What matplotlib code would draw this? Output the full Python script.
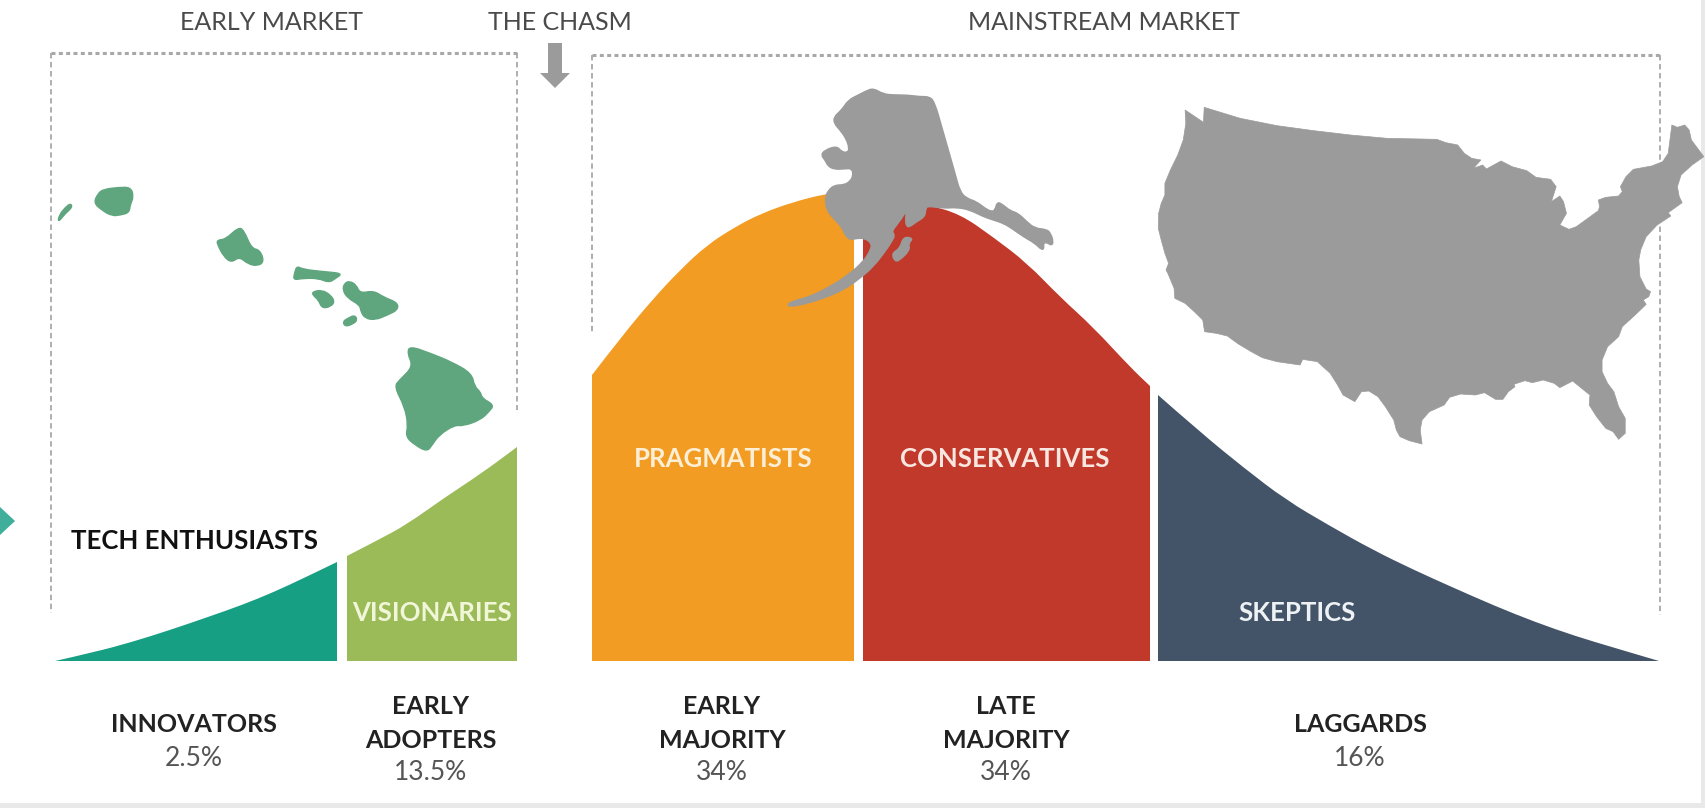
"""Chasm adoption curve with US map silhouettes."""

import matplotlib
matplotlib.use('Agg')
import matplotlib.pyplot as plt
from matplotlib.patches import PathPatch, Polygon
from matplotlib.path import Path

plt.rcParams['font.family'] = ['Lato', 'DejaVu Sans']

COLORS = {
    'innovators': '#179F84',
    'early_adopters': '#9BBB59',
    'early_majority': '#F39C23',
    'late_majority': '#C0392B',
    'laggards': '#435368',
    'map': '#9B9B9B',
    'hawaii': '#5FA67F',
    'dash': '#A8A8A8',
    'head': '#4A4A4A',
    'body': '#222222',
    'pct': '#555555',
    'strip': '#E9E9E9',
}

BASE_Y = 661

# top edge of each bell segment, in picture pixels
INNOVATORS_TOP = [(55, 661), (95, 652), (132, 642), (170, 630), (208, 617), (242, 605), (274, 592), (306, 577), (337, 562)]
EARLY_ADOPTERS_TOP = [(347, 556), (378, 540), (406, 525), (444, 498), (482, 473), (517, 447)]
EARLY_MAJORITY_TOP = [(592, 375), (622, 336), (653, 299), (680, 270), (707, 245), (735, 227), (760, 214), (793, 202), (825, 194), (854, 190)]
LATE_MAJORITY_TOP = [(863, 190), (895, 196), (928, 205), (960, 214), (993, 237), (1027, 263), (1060, 297), (1093, 327), (1130, 367), (1150, 386)]
LAGGARDS_TOP = [(1158, 395), (1200, 432), (1244, 468), (1286, 500), (1330, 526), (1373, 550), (1414, 570), (1454, 588), (1495, 606), (1535, 622), (1575, 636), (1615, 648), (1659, 661)]

ALASKA = [(340, 55), (370, 72), (400, 75), (440, 75), (480, 80), (510, 80), (525, 100), (545, 170), (565, 240), (585, 310),
          (600, 365), (620, 385), (650, 395), (675, 415), (695, 425), (705, 420), (712, 395), (730, 405), (750, 422),
          (775, 430), (800, 455), (825, 475), (860, 478), (872, 490), (880, 515), (875, 527), (860, 517), (850, 520),
          (852, 535), (845, 540), (825, 520), (790, 500), (755, 475), (730, 460), (700, 450), (670, 440), (630, 420),
          (590, 412), (550, 415), (505, 408), (497, 415), (495, 440), (470, 455), (450, 470), (440, 470), (436, 450),
          (440, 420), (425, 445), (410, 465), (395, 485), (405, 495), (395, 515), (375, 545), (340, 590), (300, 625),
          (250, 660), (190, 685), (130, 703), (90, 710), (82, 703), (100, 693), (150, 680), (210, 650), (265, 615),
          (310, 575), (332, 540), (335, 520), (315, 505), (290, 505), (270, 510), (255, 495), (245, 470), (220, 445),
          (200, 420), (195, 385), (205, 360), (225, 345), (250, 345), (270, 335), (280, 315), (275, 295), (250, 297),
          (225, 298), (205, 290), (195, 270), (183, 255), (195, 240), (230, 228), (245, 245), (262, 248), (268, 235),
          (258, 205), (240, 180), (222, 160), (222, 140), (245, 120), (265, 90), (295, 75), (320, 62)]
KODIAK = [(430, 500), (460, 505), (445, 520), (450, 540), (420, 570), (405, 575), (395, 550), (420, 535)]
LOWER_48 = [(150, 60), (200, 97), (202, 52), (300, 85), (400, 107), (500, 122), (600, 135), (700, 145), (835, 148), (860, 158),
            (892, 165), (910, 190), (930, 205), (955, 210), (935, 235), (960, 225), (970, 237), (1010, 213), (1040, 230),
            (1080, 242), (1105, 262), (1145, 268), (1160, 290), (1147, 335), (1170, 318), (1180, 335), (1188, 370),
            (1170, 405), (1195, 418), (1215, 410), (1275, 362), (1278, 350), (1275, 330), (1295, 322), (1330, 318),
            (1340, 305), (1335, 290), (1350, 260), (1370, 238), (1420, 228), (1450, 215), (1465, 190), (1475, 105),
            (1490, 112), (1510, 105), (1522, 120), (1528, 150), (1545, 175), (1562, 200), (1530, 225), (1500, 255),
            (1490, 290), (1495, 320), (1503, 338), (1465, 368), (1472, 378), (1435, 405), (1405, 440), (1390, 480),
            (1385, 510), (1388, 560), (1405, 597), (1417, 605), (1412, 620), (1397, 630), (1405, 643), (1375, 675),
            (1340, 710), (1330, 740), (1300, 770), (1285, 810), (1285, 845), (1300, 880), (1317, 905), (1330, 950),
            (1348, 985), (1348, 1030), (1330, 1048), (1315, 1025), (1295, 1015), (1270, 980), (1250, 945), (1252, 915),
            (1235, 900), (1205, 873), (1170, 893), (1155, 880), (1125, 870), (1095, 878), (1075, 872), (1045, 883),
            (1048, 890), (1030, 905), (1015, 928), (995, 928), (965, 908), (940, 915), (900, 912), (870, 922), (855, 945),
            (815, 965), (795, 990), (790, 1020), (795, 1062), (760, 1052), (735, 1040), (725, 1020), (718, 990), (695, 950),
            (675, 920), (650, 903), (630, 905), (612, 935), (580, 915), (565, 885), (545, 850), (510, 815), (470, 808),
            (463, 825), (400, 815), (360, 803), (330, 785), (295, 762), (265, 738), (235, 730), (203, 725), (198, 690),
            (175, 665), (150, 640), (122, 625), (120, 595), (103, 550), (98, 540), (105, 520), (95, 490), (85, 450),
            (77, 415), (78, 370), (85, 340), (95, 315), (95, 280), (110, 240), (130, 195), (145, 150), (152, 100)]
NIIHAU = [(205, 160), (210, 172), (190, 190), (168, 218), (172, 195), (190, 172)]
KAUAI = [(300, 118), (345, 112), (380, 112), (388, 140), (378, 165), (375, 188), (350, 195), (325, 198), (295, 180), (272, 158), (285, 130)]
OAHU = [(692, 232), (708, 240), (730, 295), (755, 300), (767, 335), (748, 348), (720, 342), (695, 320), (672, 338), (650, 320), (632, 285), (630, 270), (655, 268)]
MOLOKAI = [(862, 348), (880, 358), (940, 365), (995, 370), (975, 385), (955, 398), (925, 385), (880, 385), (852, 390), (855, 370)]
LANAI = [(908, 425), (935, 420), (960, 435), (972, 455), (960, 470), (935, 475), (925, 450), (908, 435)]
MAUI = [(1015, 393), (1035, 405), (1045, 430), (1085, 422), (1115, 442), (1155, 458), (1155, 480), (1125, 495), (1090, 510), (1060, 505), (1048, 485), (1045, 465), (1010, 445), (995, 420), (1000, 400)]
KAHOOLAWE = [(1030, 495), (1038, 510), (1025, 522), (1003, 530), (995, 515), (1010, 505)]
BIG_ISLAND = [(1190, 588), (1250, 610), (1310, 635), (1370, 670), (1378, 710), (1395, 725), (1400, 745), (1435, 765), (1420, 785), (1395, 810), (1345, 828), (1320, 825), (1275, 855), (1255, 885), (1240, 905), (1205, 885), (1178, 860), (1185, 825), (1175, 770), (1145, 710), (1160, 690), (1200, 650), (1183, 610)]

HEADERS = ['EARLY MARKET', 'THE CHASM', 'MAINSTREAM MARKET']
SEGMENT_NAMES = ['TECH ENTHUSIASTS', 'VISIONARIES', 'PRAGMATISTS', 'CONSERVATIVES', 'SKEPTICS']
GROUP_NAMES = ['INNOVATORS', 'EARLY\nADOPTERS', 'EARLY\nMAJORITY', 'LATE\nMAJORITY', 'LAGGARDS']
GROUP_SHARES = ['2.5%', '13.5%', '34%', '34%', '16%']


def crop_to_px(points, x0, y0, sx, sy):
    """Crop coordinates back to picture pixels."""
    return [(x0 + x / sx, y0 + y / sy) for x, y in points]


def smooth_closed(points):
    """Closed path that rounds off the corners with quadratic curves."""
    mid = lambda a, b: ((a[0] + b[0]) / 2, (a[1] + b[1]) / 2)
    n = len(points)
    verts = [mid(points[-1], points[0])]
    codes = [Path.MOVETO]
    for i in range(n):
        verts += [points[i], mid(points[i], points[(i + 1) % n])]
        codes += [Path.CURVE3, Path.CURVE3]
    return Path(verts, codes)


def bell_segment(ax, top, color):
    """Fill under a traced top edge, flat on the baseline."""
    verts = [(top[0][0], BASE_Y), top[0]]
    codes = [Path.MOVETO, Path.LINETO]
    for i in range(1, len(top) - 1):
        end = ((top[i][0] + top[i + 1][0]) / 2, (top[i][1] + top[i + 1][1]) / 2)
        verts += [top[i], end]
        codes += [Path.CURVE3, Path.CURVE3]
    verts += [top[-1], (top[-1][0], BASE_Y), (top[0][0], BASE_Y)]
    codes += [Path.LINETO, Path.LINETO, Path.CLOSEPOLY]
    ax.add_patch(PathPatch(Path(verts, codes), facecolor=color, edgecolor='none', zorder=2))


fig = plt.figure(figsize=(17.06, 8.08), dpi=100, facecolor='white')
ax = fig.add_axes([0, 0, 1, 1])
ax.set_xlim(0, 1706)
ax.set_ylim(808, 0)
ax.axis('off')

# pale edge strips and the chevron cut off at the left
ax.axvspan(1701, 1706, color=COLORS['strip'], lw=0, zorder=0)
ax.axhspan(803, 808, color=COLORS['strip'], lw=0, zorder=0)
ax.add_patch(Polygon([(0, 507), (15, 521), (0, 535)], facecolor='#3FAE9B', edgecolor='none'))

# dashed market frames, top rules heavier than the sides
top_dash = dict(color=COLORS['dash'], lw=2.2, ls=(0, (1.3, 1.1)), zorder=1)
side_dash = dict(color=COLORS['dash'], lw=1.3, ls=(0, (3, 2)), zorder=1)
ax.plot([51, 517], [53, 53], **top_dash)
ax.plot([592, 1660], [55, 55], **top_dash)
ax.plot([51, 51], [53, 613], **side_dash)
ax.plot([517, 517], [53, 410], **side_dash)
ax.plot([592, 592], [55, 332], **side_dash)
ax.plot([1660, 1660], [55, 615], **side_dash)

# chasm arrow
ax.add_patch(Polygon([(548, 43), (562, 43), (562, 73), (570, 73), (555, 88), (540, 73), (548, 73)],
                     facecolor=COLORS['map'], edgecolor='none'))

bell_segment(ax, INNOVATORS_TOP, COLORS['innovators'])
bell_segment(ax, EARLY_ADOPTERS_TOP, COLORS['early_adopters'])
bell_segment(ax, EARLY_MAJORITY_TOP, COLORS['early_majority'])
bell_segment(ax, LATE_MAJORITY_TOP, COLORS['late_majority'])
bell_segment(ax, LAGGARDS_TOP, COLORS['laggards'])

for outline in [ALASKA, KODIAK]:
    px = crop_to_px(outline, 760, 70, 3, 3)
    ax.add_patch(PathPatch(smooth_closed(px), facecolor=COLORS['map'], edgecolor=COLORS['map'], lw=1, zorder=3))

ax.add_patch(Polygon(crop_to_px(LOWER_48, 1130, 90, 2.722, 3), facecolor=COLORS['map'],
                     edgecolor=COLORS['map'], lw=0.5, joinstyle='round', zorder=3))

for outline in [NIIHAU, KAUAI, OAHU, MOLOKAI, LANAI, MAUI, KAHOOLAWE, BIG_ISLAND]:
    px = crop_to_px(outline, 0, 150, 2.904, 3)
    ax.add_patch(PathPatch(smooth_closed(px), facecolor=COLORS['hawaii'], edgecolor=COLORS['hawaii'], lw=1, zorder=3))

# headers
for name, x in zip(HEADERS, [272, 560, 1104]):
    ax.text(x, 22, name, color=COLORS['head'], fontsize=18, ha='center', va='center', zorder=5)

# names on the curve
name_pos = [(195, 541), (432, 613), (723, 459), (1005, 459), (1297, 613)]
name_col = ['#111111', '#F2F6D8', '#FCEFD6', '#F8E6E0', '#EEF2F5']
for name, (x, y), c in zip(SEGMENT_NAMES, name_pos, name_col):
    ax.text(x, y, name, color=c, fontsize=18.5, fontweight='bold', ha='center', va='center', zorder=5)

# groups and shares under the curve
group_x = [194, 431, 722, 1006, 1360]
for name, share, x in zip(GROUP_NAMES, GROUP_SHARES, group_x):
    lines = name.split('\n')
    if len(lines) == 1:
        ys, share_y = [725], 758
    else:
        ys, share_y = [707, 740], 773
    for line, y in zip(lines, ys):
        ax.text(x, y, line, color=COLORS['body'], fontsize=18, fontweight='bold', ha='center', va='center', zorder=5)
    ax.text(x, share_y, share, color=COLORS['pct'], fontsize=19, ha='center', va='center', zorder=5)

fig.savefig('out.png', dpi=100, facecolor='white')
plt.close(fig)
